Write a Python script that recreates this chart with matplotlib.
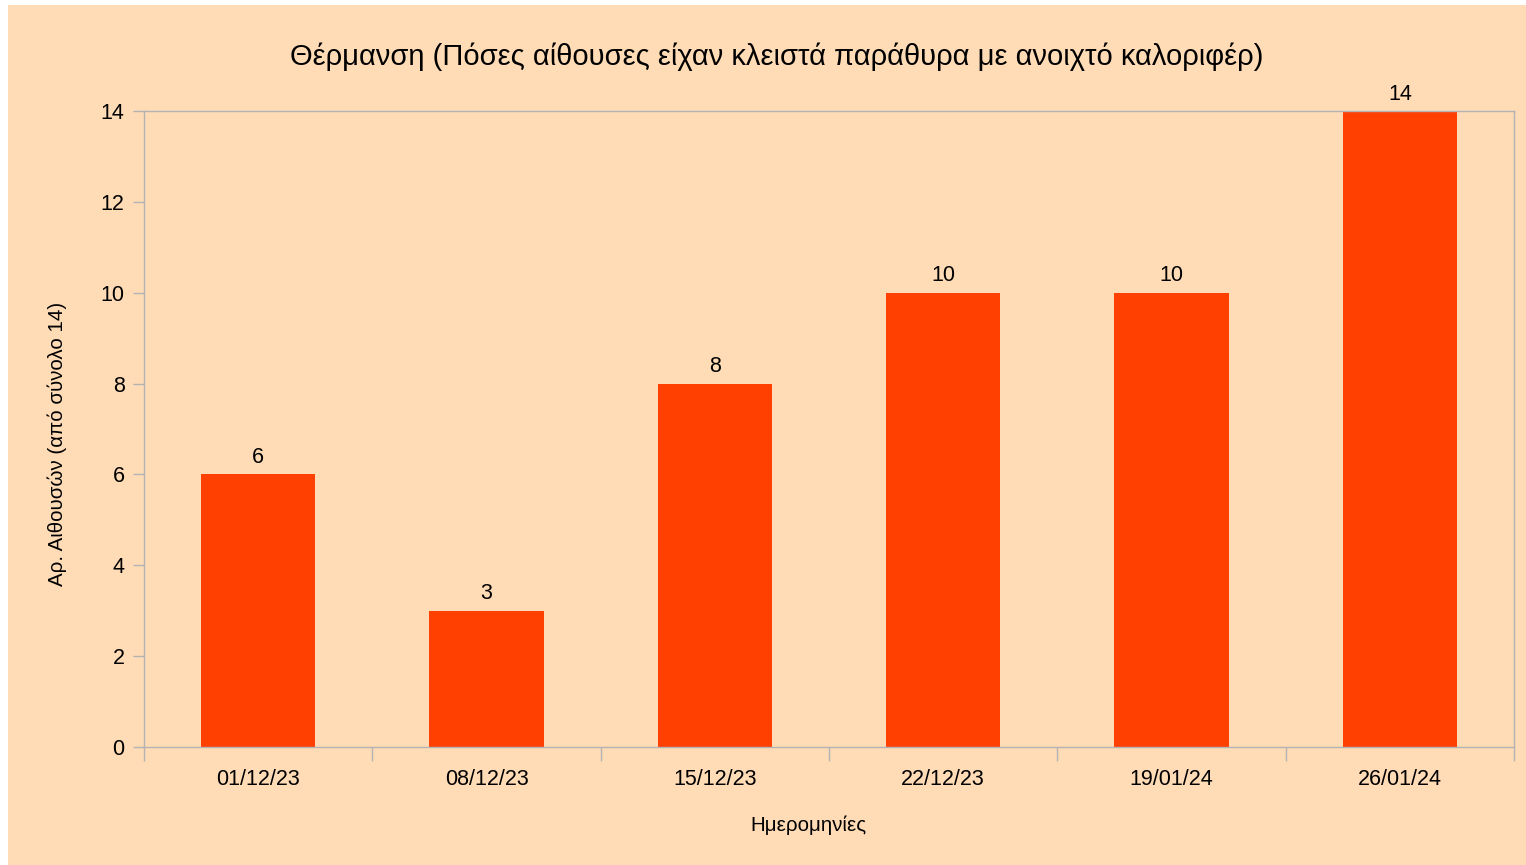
import matplotlib
matplotlib.use("Agg")
import matplotlib.pyplot as plt
from matplotlib.patches import Rectangle

categories = ["01/12/23", "08/12/23", "15/12/23", "22/12/23", "19/01/24", "26/01/24"]
values = [6, 3, 8, 10, 10, 14]
yticks = [0, 2, 4, 6, 8, 10, 12, 14]

title = "Θέρμανση (Πόσες αίθουσες είχαν κλειστά παράθυρα με ανοιχτό καλοριφέρ)"
xlabel = "Ημερομηνίες"
ylabel = "Αρ. Αιθουσών (από σύνολο 14)"

plt.rcParams['font.family'] = ['Liberation Sans', 'DejaVu Sans']

W, H = 1526, 865
bg = "#ffdbb6"
bar_color = "#ff4000"
grid_c = "#b3b3b3"

fig = plt.figure(figsize=(W/100, H/100), dpi=100, facecolor="white")
fig.patches.append(Rectangle((8/W, 0), 1 - 8/W, 1 - 5/H, transform=fig.transFigure,
                             facecolor=bg, edgecolor="none", zorder=-10))

left, right, top, bottom = 144, 1514, 111, 747
ax = fig.add_axes([left/W, 1 - bottom/H, (right-left)/W, (bottom-top)/H])
ax.set_facecolor(bg)

x = list(range(len(categories)))
bars = ax.bar(x, values, width=0.5, color=bar_color, zorder=2)
ax.set_xlim(-0.5, len(categories) - 0.5)
ax.set_ylim(0, 14)
ax.set_yticks(yticks)
ax.set_yticklabels([str(v) for v in yticks], fontsize=15.5)
ax.set_xticks(x)
ax.set_xticklabels(categories, fontsize=15.5)
ax.tick_params(axis='x', length=0, pad=15.5)
ax.set_xticks([i - 0.5 for i in range(len(categories) + 1)], minor=True)
ax.tick_params(axis='x', which='minor', length=10, color=grid_c, width=1)
ax.tick_params(axis='y', length=8, color=grid_c, width=1, pad=6)
for s in ax.spines.values():
    s.set_color(grid_c)
    s.set_linewidth(1)

for b, v in zip(bars, values):
    ax.annotate(str(v), (b.get_x() + b.get_width()/2, v), xytext=(0, 4.5),
                textcoords="offset points", ha="center", va="bottom", fontsize=15.5)

fig.text(776.5/W, 1 - 56.5/H, title, ha="center", va="center", fontsize=21)
fig.text(808/W, 1 - 825/H, xlabel, ha="center", va="center", fontsize=14.8)
fig.text(57/W, 1 - 444/H, ylabel, ha="center", va="center", rotation=90, fontsize=14.8)

fig.savefig("out.png", dpi=100, facecolor="white")
